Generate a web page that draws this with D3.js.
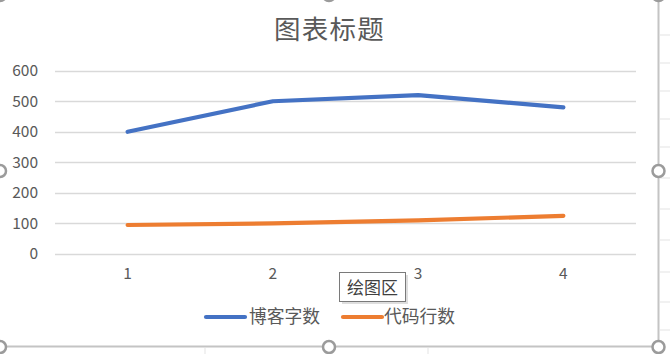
<!DOCTYPE html>
<html><head><meta charset="utf-8">
<script src="https://cdn.jsdelivr.net/npm/d3@7"></script>
<style>html,body{margin:0;padding:0;background:#fff;overflow:hidden}</style>
</head><body>
<svg id="c" width="670" height="354"></svg>
<script>
const categories = ["1", "2", "3", "4"];
const blogWords = [400, 500, 520, 480];
const codeLines = [95, 100, 110, 125];
const seriesNames = ["博客字数", "代码行数"];
const yTicks = [0, 100, 200, 300, 400, 500, 600];
const title = "图表标题";
const tooltipText = "绘图区";

const colors = ["#4472C4", "#ED7D31"];
const font = "'Noto Sans CJK SC', 'Noto Sans', sans-serif";
const svg = d3.select("#c");

const x = d3.scaleBand().domain(categories).range([55, 636]);
const y = d3.scaleLinear().domain([0, 600]).range([254, 70.7]);

// spreadsheet background fragments
const rowYs = [35, 63, 91, 119, 147, 178, 209, 240, 272, 302, 330];
svg.selectAll(".row").data(rowYs).join("line")
  .attr("x1", 660).attr("x2", 670).attr("y1", d => d).attr("y2", d => d)
  .attr("stroke", "#e3e3e3").attr("stroke-width", 1);
svg.selectAll(".col").data([205, 428]).join("line")
  .attr("x1", d => d).attr("x2", d => d).attr("y1", 348).attr("y2", 354)
  .attr("stroke", "#e3e3e3").attr("stroke-width", 1);

// title
svg.append("text").attr("x", 329.5).attr("y", 38.5).attr("text-anchor", "middle")
  .attr("font-family", font).attr("font-size", 26.5).attr("fill", "#595959")
  .attr("letter-spacing", 1.3).text(title);

// gridlines
svg.append("g").selectAll("line").data(yTicks).join("line")
  .attr("x1", 55).attr("x2", 636)
  .attr("y1", d => Math.round(y(d)) + 0.5).attr("y2", d => Math.round(y(d)) + 0.5)
  .attr("stroke", "#D9D9D9").attr("stroke-width", 1.5);

// y axis labels
const yAxis = d3.axisLeft(y).tickValues(yTicks).tickSize(0).tickPadding(0);
const gy = svg.append("g").attr("transform", "translate(38,0)").call(yAxis);
gy.select(".domain").remove();
gy.selectAll("text").attr("font-family", font).attr("font-size", 15.5).attr("fill", "#595959");

// x axis labels
const xAxis = d3.axisBottom(x).tickSize(0).tickPadding(0);
const gx = svg.append("g").attr("transform", "translate(0,268)").call(xAxis);
gx.select(".domain").remove();
gx.selectAll("text").attr("font-family", font).attr("font-size", 15.5).attr("fill", "#595959");

// lines
const line = d3.line().x((d, i) => x(categories[i]) + x.bandwidth() / 2).y(d => y(d));
[blogWords, codeLines].forEach((s, k) => {
  svg.append("path").datum(s).attr("d", line).attr("fill", "none")
    .attr("stroke", colors[k]).attr("stroke-width", 4.2)
    .attr("stroke-linecap", "round").attr("stroke-linejoin", "round");
});

// legend
const legendItems = [{x: 206, tx: 249}, {x: 343, tx: 384}];
legendItems.forEach((L, k) => {
  svg.append("line").attr("x1", L.x).attr("x2", L.x + 39).attr("y1", 317).attr("y2", 317)
    .attr("stroke", colors[k]).attr("stroke-width", 4.2).attr("stroke-linecap", "round");
  svg.append("text").attr("x", L.tx).attr("y", 323).attr("font-family", font)
    .attr("font-size", 17.8).attr("fill", "#595959").text(seriesNames[k]);
});

// chart border
svg.append("line").attr("x1", 0).attr("x2", 658.5).attr("y1", 346.5).attr("y2", 346.5)
  .attr("stroke", "#c4c4c4").attr("stroke-width", 2);
svg.append("line").attr("x1", 658.5).attr("x2", 658.5).attr("y1", 0).attr("y2", 346.5)
  .attr("stroke", "#c4c4c4").attr("stroke-width", 2);

// tooltip
svg.append("rect").attr("x", 342).attr("y", 275).attr("width", 66).attr("height", 29)
  .attr("fill", "#c8c8c8").attr("opacity", 0.6);
svg.append("rect").attr("x", 339.5).attr("y", 272.5).attr("width", 66).attr("height", 29)
  .attr("fill", "#fff").attr("stroke", "#7a7a7a").attr("stroke-width", 1);
svg.append("text").attr("x", 372.5).attr("y", 293.5).attr("text-anchor", "middle")
  .attr("font-family", font).attr("font-size", 17).attr("fill", "#404040").text(tooltipText);

// selection handles
const handles = [[0, -5], [329, -5], [658.5, -5], [0, 171], [658.5, 171], [0, 347], [329, 347], [658.5, 347]];
svg.selectAll(".h").data(handles).join("circle")
  .attr("cx", d => d[0]).attr("cy", d => d[1]).attr("r", 6)
  .attr("fill", "#fff").attr("stroke", "#9b9b9b").attr("stroke-width", 2.5);
</script>
</body></html>
